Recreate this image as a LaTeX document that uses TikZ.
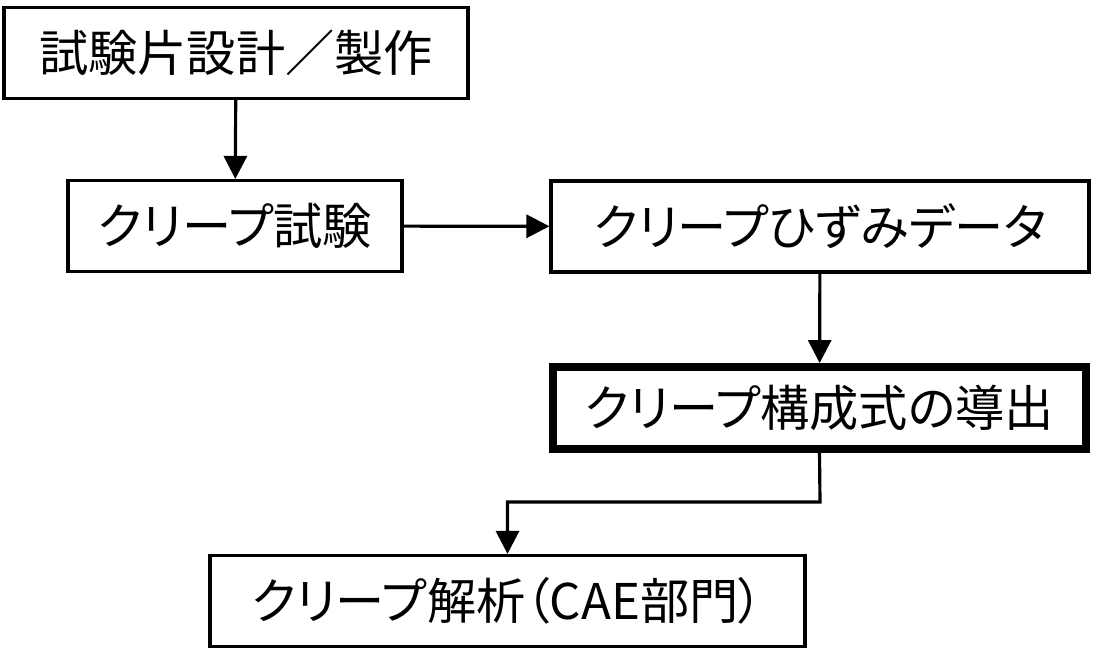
\documentclass[tikz,border=0pt]{standalone}
\usepackage{fontspec}
\newfontfamily\jpfont[RawFeature=+palt]{Noto Sans CJK JP}
\usetikzlibrary{arrows.meta, positioning}
\tikzset{
    myarrow/.style={-{Triangle[length=4.6mm, width=4.6mm]}, line width=1.8pt},
    box/.style={draw, rectangle, line width=1.8pt, font=\jpfont\fontsize{28}{32}\selectfont, inner sep=0pt, minimum height=1.82cm, align=center}
}

\begin{document}
\begin{tikzpicture}
    \useasboundingbox (0,0) rectangle (21.92,-12.98);
    \node (design) [box, minimum width=9.28cm] at (4.72,-1.06) {試験片設計／製作};
    \node (test) [box, minimum width=6.68cm] at (4.70,-4.52) {クリープ試験};
    \node (data) [box, minimum width=10.76cm] at (16.40,-4.53) {クリープひずみデータ};
    \node (law) [box, line width=4.5pt, minimum width=10.66cm, minimum height=1.64cm] at (16.39,-8.16) {クリープ構成式の導出};
    \node (cae) [box, minimum width=11.9cm] at (10.15,-12.02) {クリープ解析（CAE部門）};
    \coordinate (bend) at (16.40,-10.04);
    \draw [myarrow] (design) -- (test);
    \draw [myarrow] (test) -- (data);
    \draw [myarrow] (data) -- (law);
    \draw [myarrow] (law.south) -- (bend) -| (cae.north);
\end{tikzpicture}
\end{document}
